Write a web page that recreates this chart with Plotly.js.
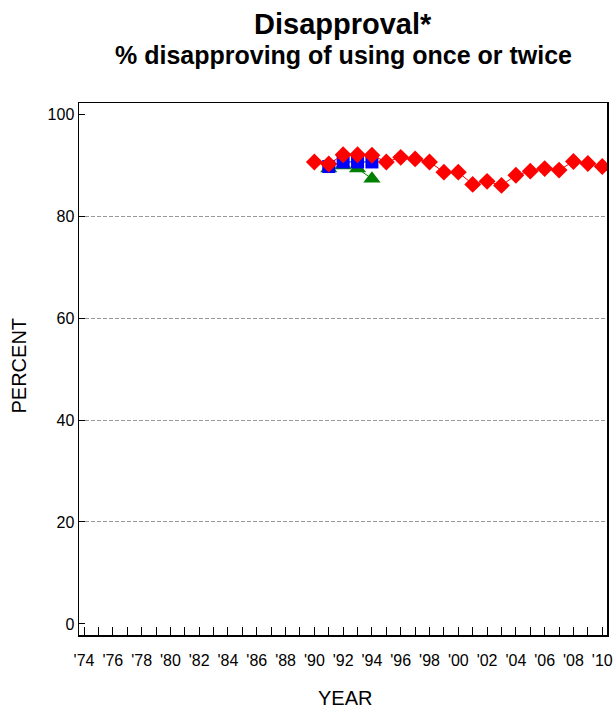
<!DOCTYPE html>
<html>
<head>
<meta charset="utf-8">
<script src="https://cdn.plot.ly/plotly-3.0.1.min.js"></script>
<style>html,body{margin:0;padding:0;background:#fff;}#chart{width:613px;height:708px;}</style>
</head>
<body>
<div id="chart"></div>
<script>
const redYears = [1990,1991,1992,1993,1994,1995,1996,1997,1998,1999,2000,2001,2002,2003,2004,2005,2006,2007,2008,2009,2010];
const redValues = [90.6,90.2,92.0,92.0,91.9,90.6,91.5,91.2,90.6,88.6,88.6,86.2,86.8,86.0,88.0,88.8,89.3,89.0,90.7,90.3,89.7];
const blueYears = [1991,1992,1993,1994];
const blueValues = [89.7,90.6,90.6,90.6];
const greenYears = [1991,1992,1993,1994];
const greenValues = [89.3,89.9,89.3,87.3];
const tickYears = [1974,1976,1978,1980,1982,1984,1986,1988,1990,1992,1994,1996,1998,2000,2002,2004,2006,2008,2010];
const tickLabels = ["'74","'76","'78","'80","'82","'84","'86","'88","'90","'92","'94","'96","'98","'00","'02","'04","'06","'08","'10"];
const yTicks = [0,20,40,60,80,100];
const gridTicks = [20,40,60,80];

const font = 'Liberation Sans, Arial, sans-serif';
const traces = [
  {x: [1974], y: [50], yaxis:'y2', type:'scatter', mode:'markers', marker:{opacity:0}, hoverinfo:'skip'},
  {x: greenYears, y: greenValues, type:'scatter', mode:'lines+markers',
   line:{color:'#008000', width:1}, marker:{symbol:'triangle-up', size:15, color:'#008000'}, hoverinfo:'skip'},
  {x: blueYears, y: blueValues, type:'scatter', mode:'lines+markers',
   line:{color:'#0000FF', width:1}, marker:{symbol:'square', size:13, color:'#0000FF'}, hoverinfo:'skip'},
  {x: redYears, y: redValues, type:'scatter', mode:'lines+markers',
   line:{color:'#FF0000', width:1}, marker:{symbol:'diamond', size:13, color:'#FF0000'}, hoverinfo:'skip'}
];
const layout = {
  width: 613, height: 708,
  margin: {l: 79, r: 6, t: 103, b: 73},
  paper_bgcolor: '#fff', plot_bgcolor: '#fff',
  showlegend: false,
  font: {family: font, color: '#000'},
  xaxis: {
    range: [1973.65, 2010.33], tickvals: tickYears, ticktext: tickLabels,
    ticks: 'inside', ticklen: 8, tickcolor: '#000', tickwidth: 1,
    minor: {dtick: 1, tick0: 1974, ticks: 'inside', ticklen: 8, tickcolor: '#000', tickwidth: 1, showgrid: false},
    showline: true, linecolor: '#000', linewidth: 1.5, mirror: true,
    showgrid: false, zeroline: false,
    ticklabelstandoff: 10,
    tickfont: {size: 16, family: font}
  },
  yaxis: {
    range: [-2.16, 102.16], tickvals: yTicks, ticks: 'inside', ticklen: 6, tickcolor: '#000',
    showline: true, linecolor: '#000', linewidth: 1.5, mirror: true,
    showgrid: false, zeroline: false,
    tickfont: {size: 16, family: font}
  },
  yaxis2: {
    overlaying: 'y', range: [-2.16, 102.16], tickvals: gridTicks, showticklabels: false,
    ticks: '', showgrid: true, gridcolor: '#999', griddash: '4px,2px', gridwidth: 1,
    zeroline: false, showline: false, layer: 'below traces'
  },
  annotations: [
    {text: '<b>Disapproval*</b>', xref: 'paper', yref: 'paper', x: 0.5, y: 1, yshift: 79,
     xanchor: 'center', yanchor: 'middle', showarrow: false, font: {size: 29, family: font}},
    {text: '<b>% disapproving of using once or twice</b>', xref: 'paper', yref: 'paper', x: 0.5, y: 1, yshift: 48,
     xanchor: 'center', yanchor: 'middle', showarrow: false, font: {size: 25, family: font}},
    {text: 'PERCENT', xref: 'paper', yref: 'paper', x: 0, y: 0.5, xshift: -60.5, yshift: 3, textangle: -90,
     xanchor: 'center', yanchor: 'middle', showarrow: false, font: {size: 20, family: font}},
    {text: 'YEAR', xref: 'paper', yref: 'paper', x: 0.5, y: 0, xshift: 2, yshift: -63,
     xanchor: 'center', yanchor: 'middle', showarrow: false, font: {size: 20, family: font}}
  ]
};
Plotly.newPlot('chart', traces, layout, {staticPlot: true, displayModeBar: false});
</script>
</body>
</html>
